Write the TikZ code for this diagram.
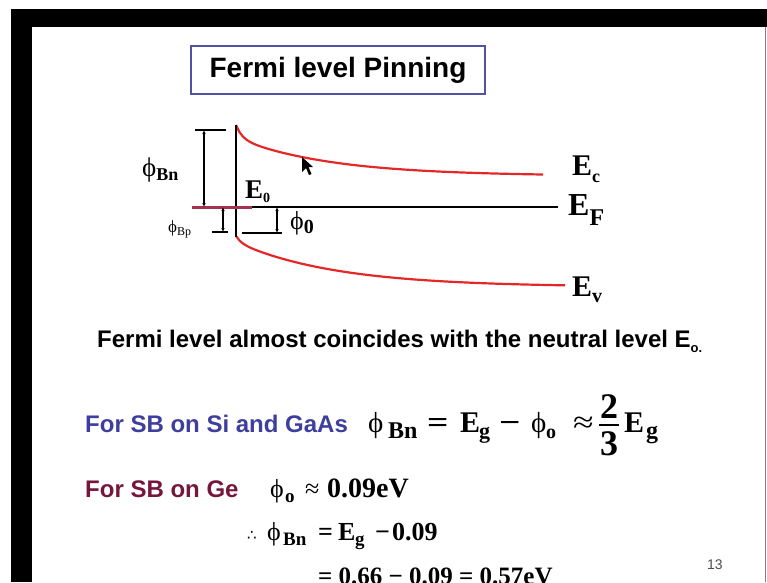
\documentclass[tikz,border=0pt]{standalone}
\usepackage{fontspec}
\setmainfont{Liberation Serif}
\newfontfamily\arialfont{Liberation Sans}
\newfontfamily\dotsfont{DejaVu Sans}
\usetikzlibrary{arrows.meta}

\definecolor{slideblue}{RGB}{62,62,158}
\definecolor{slidemaroon}{RGB}{118,22,58}
\definecolor{bandred}{RGB}{228,40,40}
\definecolor{boxblue}{RGB}{82,82,165}
\definecolor{pinmaroon}{RGB}{165,50,80}

% lowered subscript: drop, size, text
\newcommand{\lo}[3]{\raisebox{-#1pt}{\fontsize{#2}{#2}\selectfont #3}}
% token in a box of fixed width
\newcommand{\tok}[2]{\makebox[#1pt][l]{#2}}
% wide operator
\newcommand{\wideop}[1]{\scalebox{1.25}[1]{#1}}
% stacked fraction
\newcommand{\slfrac}[2]{\makebox[20pt][l]{\rlap{\raisebox{14pt}{\makebox[20pt]{#1}}}%
    \rlap{\raisebox{6.5pt}{\rule{20pt}{1.4pt}}}\raisebox{-23pt}{\makebox[20pt]{#2}}}}

\begin{document}
\begin{tikzpicture}[x=1pt,y=-1pt,
    band/.style={bandred, line width=2.2pt},
    level/.style={black, line width=1.8pt},
    dimarrow/.style={{Latex[length=4pt,width=3.5pt]}-{Latex[length=4pt,width=3.5pt]}, line width=1.1pt},
    tick/.style={line width=1.5pt},
    titlebox/.style={draw=boxblue, line width=2pt, minimum width=294pt,
                     minimum height=48pt, inner sep=0pt,
                     font=\arialfont\bfseries\fontsize{28}{30}\selectfont},
    sans/.style={anchor=base west, inner sep=0pt,
                 font=\arialfont\bfseries\fontsize{24}{26}\selectfont},
    lab/.style={anchor=base west, inner sep=0pt}
]
    \useasboundingbox (0,0) rectangle (767,582);
    \clip (0,0) rectangle (767,582);

    % slide frame
    \fill[black] (11,9) rectangle (767,27);
    \fill[black] (11,9) rectangle (32,582);
    \draw[gray, line width=1pt] (765,27) -- (765,582);

    \node[titlebox] (title) at (338,70) {Fermi level Pinning};

    % band diagram
    \draw[band] plot[domain=0:307, samples=90]
        ({236+\x}, {176-38*exp(-\x/95)-13*exp(-\x/6)});
    \draw[band] plot[domain=0:329, samples=90]
        ({236+\x}, {287-45*exp(-\x/100)-6*exp(-\x/5)});
    \draw[level] (236,125) -- (236,237);
    \draw[level] (236,207) -- (558,207);
    \draw[pinmaroon, line width=3pt] (192,207) -- (252,207);

    \coordinate (bntop) at (204,130);
    \coordinate (bnbot) at (204,207);
    \coordinate (bptop) at (223,207);
    \coordinate (bpbot) at (223,232);
    \coordinate (ztop) at (277,207);
    \coordinate (zbot) at (277,233);
    \draw[tick] (195,130) -- (226,130);
    \draw[tick] (212,232) -- (228,232);
    \draw[tick] (242,233) -- (282,233);
    \draw[dimarrow] (bntop) -- (bnbot);
    \draw[dimarrow] (bptop) -- (bpbot);
    \draw[dimarrow] (ztop) -- (zbot);

    % mouse pointer
    \fill[black] (302,157) -- (302,172) -- (306,168) -- (309,175) -- (311.5,174)
        -- (308.5,167) -- (313,167) -- cycle;

    \node[lab, font=\fontsize{27}{28}\selectfont] (phibn) at (142,176) {ϕ\lo{4}{18}{\bfseries Bn}};
    \node[lab, font=\fontsize{17}{18}\selectfont] (phibp) at (168,232) {ϕ\lo{3}{12}{Bp}};
    \node[lab, font=\bfseries\fontsize{27}{28}\selectfont] (ezero) at (245,198) {E\lo{4}{14}{0}};
    \node[lab, font=\fontsize{26}{28}\selectfont] (phizero) at (290,229) {ϕ\lo{4}{20}{\bfseries 0}};
    \node[lab, font=\bfseries\fontsize{30}{32}\selectfont] (ec) at (572,175) {E\lo{7}{18}{c}};
    \node[lab, font=\bfseries\fontsize{32}{32}\selectfont] (ef) at (568,215) {E\lo{10}{24}{F}};
    \node[lab, font=\bfseries\fontsize{30}{32}\selectfont] (ev) at (572,296) {E\lo{6}{20}{v}};

    % text
    \node[sans] (note) at (97,347)
        {Fermi level almost coincides with the neutral level E\lo{5}{13}{o.}};

    \node[sans, text=slideblue] (si) at (85,432) {For SB on Si and GaAs};
    \node[lab, font=\fontsize{30}{32}\selectfont] (sieq) at (368,432)
        {\tok{20}{\fontsize{29}{30}\selectfont ϕ}\tok{39}{\lo{6}{24}{\bfseries Bn}}\tok{33}{\bfseries\wideop{=}}%
         \tok{19}{\bfseries E}\tok{20}{\lo{6}{22}{\bfseries g}}\tok{32}{\bfseries\wideop{−}}%
         \tok{15}{\fontsize{29}{30}\selectfont ϕ}\tok{27}{\lo{6}{20}{\bfseries o}}\tok{26}{\wideop{≈}}%
         \tok{25}{\bfseries\fontsize{36}{36}\selectfont\slfrac{2}{3}}\tok{22}{\bfseries E}\lo{6}{24}{\bfseries g}};

    \node[sans, text=slidemaroon] (ge) at (85,497) {For SB on Ge};
    \node[lab, font=\fontsize{26}{28}\selectfont] (geeq) at (270,497)
        {\tok{15}{ϕ}\tok{20}{\lo{5}{19}{\bfseries o}}\tok{22}{≈}{\bfseries\fontsize{28}{28}\selectfont 0.09eV}};
    \node[lab, font=\fontsize{26}{28}\selectfont] (bneq) at (247,540)
        {\tok{20}{\dotsfont\fontsize{15}{15}\selectfont ∴}\tok{16}{ϕ}\tok{35}{\lo{5}{19}{\bfseries Bn}}%
         \tok{20}{\bfseries =}\tok{17}{\bfseries E}\tok{20}{\lo{5}{19}{\bfseries g}}\tok{17}{\bfseries −}%
         {\bfseries 0.09}};
    \node[lab, font=\bfseries\fontsize{25}{27}\selectfont] (res) at (318,584)
        {= 0.66 − 0.09 = 0.57eV};

    \node[lab, font=\arialfont\fontsize{14}{14}\selectfont, text=black!70] (page) at (707,569) {13};
\end{tikzpicture}
\end{document}
